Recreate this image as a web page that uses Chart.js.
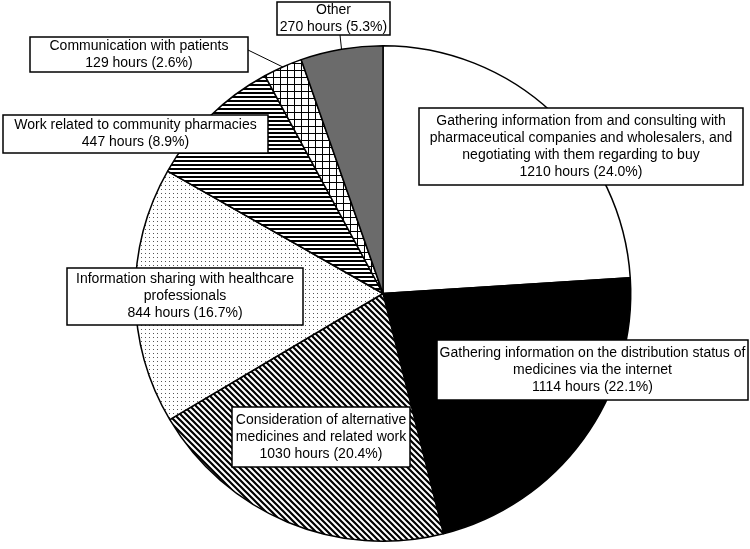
<!DOCTYPE html>
<html>
<head>
<meta charset="utf-8">
<script src="https://cdn.jsdelivr.net/npm/chart.js@4"></script>
<style>
  html, body { margin: 0; padding: 0; background: #fff; }
  #wrap { width: 750px; height: 549px; }
</style>
</head>
<body>
<div id="wrap"><canvas id="pie"></canvas></div>
<script>
// data, clockwise from 12 o'clock
const categories = [
  ['Gathering information from and consulting with', 'pharmaceutical companies and wholesalers, and', 'negotiating with them regarding to buy'],
  ['Gathering information on the distribution status of', 'medicines via the internet'],
  ['Consideration of alternative', 'medicines and related work'],
  ['Information sharing with healthcare', 'professionals'],
  ['Work related to community pharmacies'],
  ['Communication with patients'],
  ['Other']
];
const hours = [1210, 1114, 1030, 844, 447, 129, 270];
const percents = ['24.0', '22.1', '20.4', '16.7', '8.9', '2.6', '5.3'];

// label boxes: [left, top, right, bottom] and whether a leader line is drawn
const labelBoxes = [
  { box: [419, 108, 743, 185], leader: false },
  { box: [437, 340, 748, 400], leader: false },
  { box: [232, 407, 410, 467], leader: false },
  { box: [67, 268, 303, 325], leader: false },
  { box: [3, 115, 268, 153], leader: false },
  { box: [30, 37, 248, 72], leader: true, from: [248, 50] },
  { box: [277, 2, 390, 35], leader: true, from: [340, 35] }
];

function makePattern(w, h, draw) {
  const c = document.createElement('canvas');
  c.width = w; c.height = h;
  const g = c.getContext('2d');
  g.fillStyle = '#fff';
  g.fillRect(0, 0, w, h);
  draw(g);
  return g.createPattern(c, 'repeat');
}

const ctx = document.getElementById('pie').getContext('2d');

const diagonal = makePattern(6, 6, (g) => {
  g.strokeStyle = '#000';
  g.lineWidth = 2.2;
  g.beginPath();
  g.moveTo(-1, -1); g.lineTo(7, 7);
  g.moveTo(-7, -1); g.lineTo(1, 7);
  g.moveTo(5, -1); g.lineTo(13, 7);
  g.stroke();
});
const dots = makePattern(4, 4, (g) => {
  g.fillStyle = '#555';
  g.fillRect(1, 1, 1, 1);
});
const horizontal = makePattern(4, 4, (g) => {
  g.fillStyle = '#000';
  g.fillRect(0, 0, 4, 2);
});
const grid = makePattern(7, 7, (g) => {
  g.fillStyle = '#000';
  g.fillRect(0, 0, 7, 1);
  g.fillRect(0, 0, 1, 7);
});

const fills = ['#ffffff', '#000000', diagonal, dots, horizontal, grid, '#6b6b6b'];

const labelPlugin = {
  id: 'boxLabels',
  afterDraw(chart) {
    const c = chart.ctx;
    const arcs = chart.getDatasetMeta(0).data;
    c.save();
    labelBoxes.forEach((lb, i) => {
      const [l, t, r, b] = lb.box;
      if (lb.leader) {
        const a = arcs[i].getProps(['x', 'y', 'startAngle', 'endAngle', 'outerRadius']);
        const mid = (a.startAngle + a.endAngle) / 2;
        c.strokeStyle = '#000';
        c.lineWidth = 1;
        c.beginPath();
        c.moveTo(lb.from[0], lb.from[1]);
        c.lineTo(a.x + Math.cos(mid) * a.outerRadius, a.y + Math.sin(mid) * a.outerRadius);
        c.stroke();
      }
      c.fillStyle = '#fff';
      c.fillRect(l, t, r - l, b - t);
      c.strokeStyle = '#000';
      c.lineWidth = 1.5;
      c.strokeRect(l, t, r - l, b - t);
      const lines = categories[i].concat([hours[i] + ' hours (' + percents[i] + '%)']);
      c.fillStyle = '#000';
      c.font = '14px "Liberation Sans", Arial, sans-serif';
      c.textAlign = 'center';
      c.textBaseline = 'middle';
      const lh = 17;
      const cy = (t + b) / 2 - (lines.length - 1) * lh / 2;
      lines.forEach((s, k) => c.fillText(s, (l + r) / 2, cy + k * lh));
    });
    c.restore();
  }
};

new Chart(ctx, {
  type: 'pie',
  data: {
    labels: categories.map((c) => c.join(' ')),
    datasets: [{
      data: hours,
      backgroundColor: fills,
      borderColor: '#000',
      borderWidth: 1.5,
      hoverOffset: 0
    }]
  },
  options: {
    responsive: true,
    maintainAspectRatio: false,
    animation: false,
    events: [],
    layout: { padding: { top: 45, bottom: 7, left: 16, right: 0 } },
    plugins: {
      legend: { display: false },
      tooltip: { enabled: false }
    }
  },
  plugins: [labelPlugin]
});
</script>
</body>
</html>
